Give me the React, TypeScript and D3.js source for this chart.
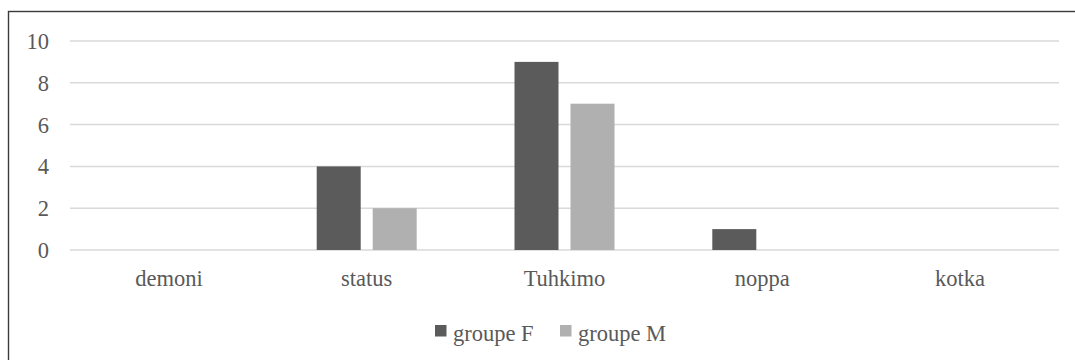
import React from "react";
import * as d3 from "d3";

const categories = ["demoni", "status", "Tuhkimo", "noppa", "kotka"];
const seriesNames = ["groupe F", "groupe M"];
const groupeF = [0, 4, 9, 1, 0];
const groupeM = [0, 2, 7, 0, 0];
const yTicks = [0, 2, 4, 6, 8, 10];

const colors = ["#5b5b5b", "#b0b0b0"];
const textColor = "#595959";
const font = "'Liberation Serif', 'Times New Roman', serif";

export default function App() {
  const W = 1075;
  const H = 360;
  const plotLeft = 70;
  const plotRight = 1059;
  const plotTop = 41;
  const plotBottom = 250;

  const x0 = d3.scaleBand<string>().domain(categories).range([plotLeft, plotRight]);
  const x1 = d3
    .scaleBand<string>()
    .domain(seriesNames)
    .range([-50, 50])
    .paddingInner(12 / 56);
  const y = d3.scaleLinear().domain([0, 10]).range([plotBottom, plotTop]);

  const series = [groupeF, groupeM];

  return (
    <svg
      width={W}
      height={H}
      style={{ position: "absolute", left: 0, top: 0, background: "#fff" }}
      fontFamily={font}
    >
      <rect x={8.5} y={11.5} width={W + 20} height={H + 20} fill="#fff" stroke="#3a3a3a" strokeWidth={1.4} />
      {yTicks.map((t) => (
        <g key={t}>
          <line x1={plotLeft} x2={plotRight} y1={y(t)} y2={y(t)} stroke="#d9d9d9" strokeWidth={1.5} />
          <text x={49} y={y(t) + 8} textAnchor="end" fontSize={22.5} fill={textColor}>
            {t}
          </text>
        </g>
      ))}
      {categories.map((c, i) => {
        const cx = (x0(c) as number) + x0.bandwidth() / 2;
        return (
          <g key={c}>
            {series.map((vals, s) => {
              const v = vals[i];
              if (v <= 0) return null;
              const bx = cx + (x1(seriesNames[s]) as number);
              return (
                <rect
                  key={s}
                  x={bx}
                  y={y(v)}
                  width={x1.bandwidth()}
                  height={y(0) - y(v)}
                  fill={colors[s]}
                />
              );
            })}
            <text x={cx} y={286} textAnchor="middle" fontSize={22.5} fill={textColor}>
              {c}
            </text>
          </g>
        );
      })}
      {seriesNames.map((name, s) => {
        const lx = [435, 560][s];
        return (
          <g key={name}>
            <rect x={lx} y={325} width={11.5} height={11.5} fill={colors[s]} />
            <text x={lx + 18} y={341} fontSize={22.5} fill={textColor}>
              {name}
            </text>
          </g>
        );
      })}
    </svg>
  );
}
